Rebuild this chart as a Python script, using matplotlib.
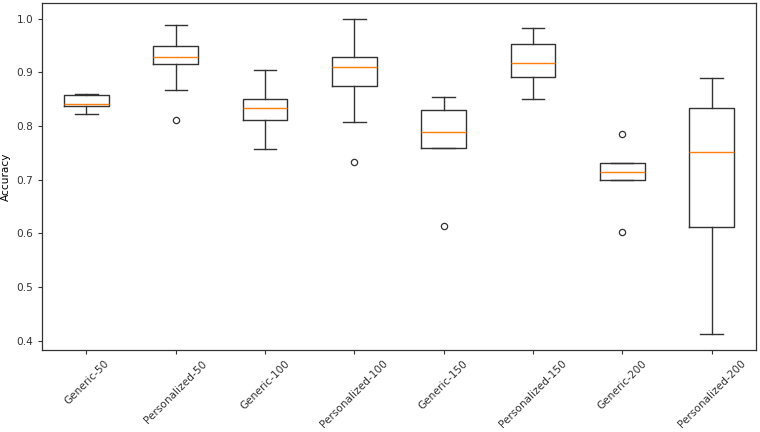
import matplotlib
matplotlib.use("Agg")
from matplotlib import pyplot as plt

# box plot summary values
labels = ["Generic-50", "Personalized-50", "Generic-100", "Personalized-100",
          "Generic-150", "Personalized-150", "Generic-200", "Personalized-200"]
medians = [0.841, 0.928, 0.833, 0.911, 0.789, 0.918, 0.714, 0.751]
q1s = [0.838, 0.916, 0.812, 0.874, 0.759, 0.891, 0.699, 0.611]
q3s = [0.857, 0.949, 0.850, 0.929, 0.830, 0.953, 0.731, 0.833]
whis_lo = [0.822, 0.867, 0.758, 0.808, 0.759, 0.850, 0.699, 0.412]
whis_hi = [0.860, 0.989, 0.905, 1.000, 0.855, 0.983, 0.731, 0.890]
outliers = [[], [0.812], [], [0.733], [0.614], [], [0.785, 0.602], []]

stats = []
for i in range(len(labels)):
    stats.append({
        'label': labels[i],
        'med': medians[i],
        'q1': q1s[i],
        'q3': q3s[i],
        'whislo': whis_lo[i],
        'whishi': whis_hi[i],
        'fliers': outliers[i],
    })

plt.rcParams['font.size'] = 7.6
plt.rcParams['axes.linewidth'] = 0.9
plt.rcParams['axes.edgecolor'] = '#333333'
plt.rcParams['xtick.major.width'] = 0.8
plt.rcParams['ytick.major.width'] = 0.8
plt.rcParams['xtick.major.size'] = 2.7
plt.rcParams['ytick.major.size'] = 2.7
plt.rcParams['xtick.color'] = '#333333'
plt.rcParams['ytick.color'] = '#333333'

fig, ax = plt.subplots(figsize=(7.6, 4.32), dpi=100)
lw = 1.0
ax.bxp(stats,
       boxprops=dict(linewidth=lw, color='#333333'),
       whiskerprops=dict(linewidth=lw, color='#333333'),
       capprops=dict(linewidth=lw, color='#333333'),
       medianprops=dict(linewidth=lw, color='#ff7f0e'),
       flierprops=dict(markersize=4.5, markeredgewidth=0.9, markeredgecolor='#333333'))

ax.set_ylabel('Accuracy')
plt.xticks(rotation=45)
fig.subplots_adjust(left=0.055, right=0.995, top=0.993, bottom=0.19)
fig.savefig('out.png', dpi=100)
